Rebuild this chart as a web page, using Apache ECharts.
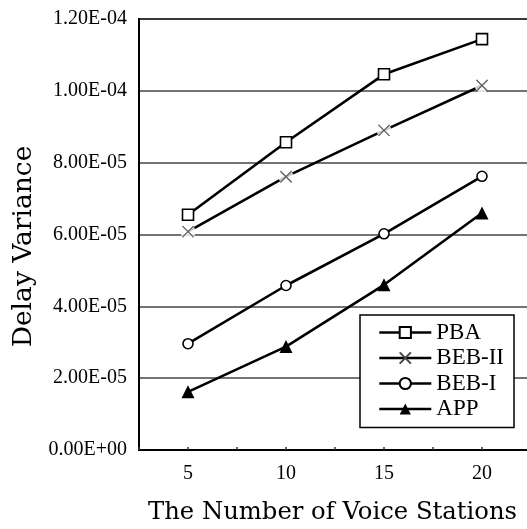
<!DOCTYPE html>
<html>
<head>
<meta charset="utf-8">
<script src="https://cdn.jsdelivr.net/npm/echarts@6/dist/echarts.min.js"></script>
<style>
  html, body { margin: 0; padding: 0; background: #fff; }
  #chart { width: 527px; height: 529px; }
</style>
</head>
<body>
<div id="chart"></div>
<script>
// Delay variance against the number of voice stations
const stations = [5, 10, 15, 20];
const pba   = [6.55e-5, 8.57e-5, 1.046e-4, 1.144e-4];
const bebII = [6.08e-5, 7.61e-5, 8.90e-5, 1.015e-4];
const bebI  = [2.96e-5, 4.58e-5, 6.02e-5, 7.62e-5];
const app   = [1.62e-5, 2.88e-5, 4.60e-5, 6.60e-5];
const yTickLabels = ['0.00E+00', '2.00E-05', '4.00E-05', '6.00E-05', '8.00E-05', '1.00E-04', '1.20E-04'];
const xTickLabels = ['5', '10', '15', '20'];

const serif = '"Liberation Serif", "DejaVu Serif", serif';
const wideSerif = '"DejaVu Serif", "Liberation Serif", serif';
const pairs = arr => stations.map((s, i) => [s, arr[i]]);
const crossPath = 'path://M0,0L10,10M10,0L0,10';

const chart = echarts.init(document.getElementById('chart'), null, { renderer: 'canvas' });

const lineBase = {
  type: 'line',
  z: 2,
  lineStyle: { color: '#000', width: 2.6 },
  emphasis: { disabled: true },
  animation: false
};

chart.setOption({
  backgroundColor: '#fff',
  animation: false,
  grid: {
    left: 139, top: 19, bottom: 79, right: -4,
    outerBoundsMode: 'none',
    containLabel: false,
    show: true, borderColor: '#111', borderWidth: 2, backgroundColor: 'transparent'
  },
  legend: {
    data: ['PBA', 'BEB-II', 'BEB-I', 'APP'],
    orient: 'vertical',
    left: 360, top: 315,
    itemWidth: 52, itemHeight: 14, itemGap: 2.5,
    padding: [6, 10, 7, 18],
    backgroundColor: '#fff',
    borderColor: '#000', borderWidth: 1.5, borderRadius: 0,
    selectedMode: false,
    lineStyle: { width: 2.6 },
    textStyle: { fontFamily: serif, fontSize: 23, color: '#000', lineHeight: 23 }
  },
  xAxis: {
    type: 'value',
    min: 2.5, max: 22.5, interval: 2.5,
    name: 'The Number of Voice Stations',
    nameLocation: 'middle', nameGap: 51,
    nameTextStyle: { fontFamily: wideSerif, fontSize: 24.3, color: '#000', padding: [0, 5, 0, 0] },
    axisLine: { show: true, lineStyle: { color: '#000', width: 2 } },
    axisTick: { show: true, inside: true, length: 3, lineStyle: { color: '#333', width: 1.5 } },
    splitLine: { show: false },
    axisLabel: {
      fontFamily: serif, fontSize: 20, color: '#000', margin: 14,
      showMinLabel: true, showMaxLabel: true,
      formatter: v => {
        const i = stations.indexOf(v);
        return i >= 0 ? xTickLabels[i] : '';
      }
    }
  },
  yAxis: {
    type: 'value',
    min: 0, max: 1.2e-4, interval: 2e-5,
    name: 'Delay Variance',
    nameLocation: 'middle', nameGap: 99, nameRotate: 90,
    nameTextStyle: { fontFamily: wideSerif, fontSize: 26.5, color: '#000', padding: [0, 24, 0, 0] },
    axisLine: { show: true, lineStyle: { color: '#000', width: 2 } },
    axisTick: { show: false },
    splitLine: { show: true, lineStyle: { color: '#444', width: 1.6 } },
    axisLabel: {
      fontFamily: serif, fontSize: 20, color: '#000', margin: 12,
      formatter: (v, i) => yTickLabels[i]
    }
  },
  series: [
    Object.assign({}, lineBase, {
      name: 'PBA', data: pairs(pba),
      symbol: 'rect', symbolSize: 11,
      itemStyle: { color: '#fff', borderColor: '#000', borderWidth: 1.6 }
    }),
    Object.assign({}, lineBase, {
      name: 'BEB-II', data: pairs(bebII),
      symbol: crossPath, symbolSize: 11,
      itemStyle: { color: 'rgba(0,0,0,0)', borderColor: '#444', borderWidth: 1.3 }
    }),
    Object.assign({}, lineBase, {
      name: 'BEB-I', data: pairs(bebI),
      symbol: 'circle', symbolSize: 10,
      itemStyle: { color: '#fff', borderColor: '#000', borderWidth: 1.6 }
    }),
    Object.assign({}, lineBase, {
      name: 'APP', data: pairs(app),
      symbol: 'triangle', symbolSize: 13,
      itemStyle: { color: '#000', borderColor: '#000', borderWidth: 0 }
    }),
    // white halo that opens a small gap in the BEB-II line around each cross
    {
      type: 'scatter', name: 'beb2-halo', data: pairs(bebII), z: 3, silent: true,
      symbol: 'circle', symbolSize: 15,
      itemStyle: { color: '#fff', borderWidth: 0 },
      animation: false
    },
    {
      type: 'scatter', name: 'beb2-cross', data: pairs(bebII), z: 4, silent: true,
      symbol: crossPath, symbolSize: 11,
      itemStyle: { color: 'rgba(0,0,0,0)', borderColor: '#444', borderWidth: 1.3 },
      animation: false
    }
  ]
});
</script>
</body>
</html>
